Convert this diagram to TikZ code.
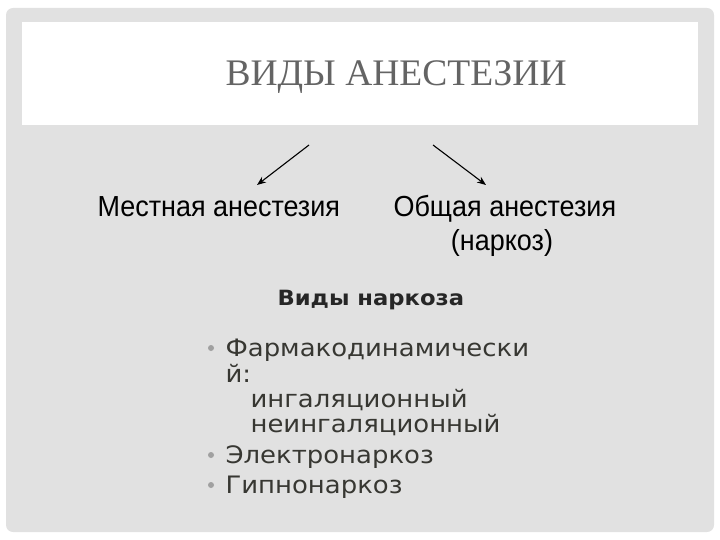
\documentclass[tikz,border=0pt]{standalone}
\usepackage{fontspec}
\setmainfont{Liberation Serif}
\newfontfamily\tahfont[FakeStretch=0.93]{Liberation Sans}
\newfontfamily\gothfont[FakeStretch=1.08]{DejaVu Sans}
\usetikzlibrary{calc,arrows.meta,positioning}
\definecolor{panelgray}{RGB}{225,225,225}
\definecolor{titlegray}{RGB}{100,100,100}
\definecolor{listgray}{RGB}{55,55,50}
\definecolor{dotgray}{RGB}{160,160,160}

\begin{document}
\begin{tikzpicture}[x=1pt,y=-1pt,>={Stealth[length=9pt,width=7pt]},line width=1.1pt,
  txt/.style={inner sep=0pt,anchor=base west},
  mid/.style={txt,font={\tahfont\fontsize{29}{34}\selectfont},text=black},
  lst/.style={txt,font={\gothfont\fontsize{24}{26}\selectfont},text=listgray},
  dot/.style={circle,fill=dotgray,inner sep=0pt,minimum size=6pt}]
\useasboundingbox (0,0) rectangle (720,540);
% slide panel and title box
\fill[panelgray,rounded corners=7pt] (6,8) rectangle (714,532);
\fill[white] (22,22) rectangle (698,125);
\node[txt,font={\fontsize{37.5}{40}\selectfont},text=titlegray] (title) at (225,86) {ВИДЫ АНЕСТЕЗИИ};

% two kinds
\node[mid] (local) at (97,216) {Местная анестезия};
\node[mid] (general) at (393,216) {Общая анестезия};
\node[mid,anchor=base] (narkoz) at (502,250) {(наркоз)};

\coordinate (ltail) at (309,145);
\coordinate (lhead) at (257,185);
\coordinate (rtail) at (433,145);
\coordinate (rhead) at (486,185);
\draw[->] (ltail) -- (lhead);
\draw[->] (rtail) -- (rhead);

% kinds of narcosis
\node[txt,font={\gothfont\bfseries\fontsize{21}{26}\selectfont},text=black!85] (kinds) at (277,305) {Виды наркоза};

\node[lst] (farm) at (225,356) {Фармакодинамически};
\node[lst] (farm2) at (225,382) {й:};
\node[lst] (inh) at (250,407) {ингаляционный};
\node[lst] (noninh) at (250,432) {неингаляционный};
\node[lst] (elec) at (225,463) {Электронаркоз};
\node[lst] (hypn) at (225,493) {Гипнонаркоз};

\node[dot] (b1) at ($(farm.base west)+(-14,-8)$) {};
\node[dot] (b2) at ($(elec.base west)+(-14,-8)$) {};
\node[dot] (b3) at ($(hypn.base west)+(-14,-8)$) {};
\end{tikzpicture}
\end{document}
